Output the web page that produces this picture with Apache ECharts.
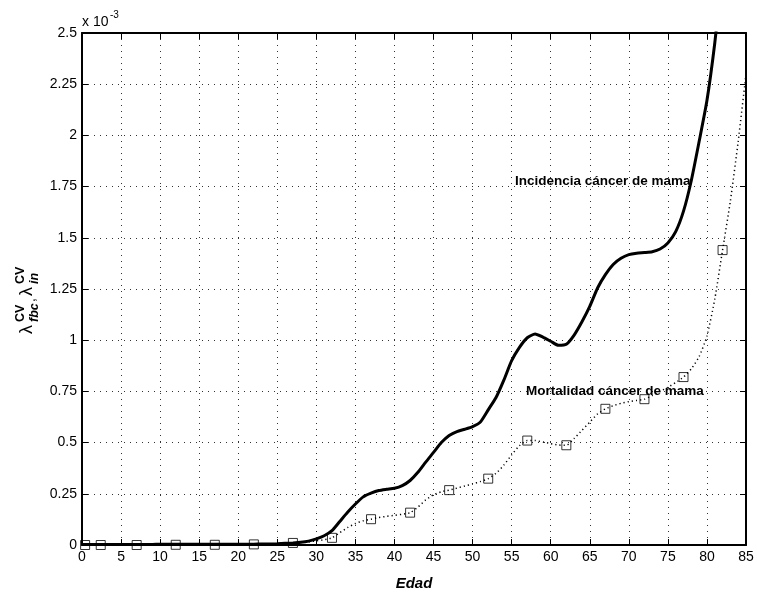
<!DOCTYPE html>
<html>
<head>
<meta charset="utf-8">
<script src="https://cdn.jsdelivr.net/npm/echarts@6/dist/echarts.min.js"></script>
<style>
html,body{margin:0;padding:0;background:#fff;}
#chart{width:757px;height:596px;}
</style>
</head>
<body>
<div id="chart"></div>
<script>
// Ages (years)
const incidenceAges = [0,1,2,3,4,5,6,7,8,9,10,11,12,13,14,15,16,17,18,19,20,21,22,23,24,25,26,27,28,29,30,31,32,33,34,35,36,37,38,39,40,41,42,43,44,45,46,47,48,49,50,51,52,53,54,55,56,57,58,59,60,61,62,63,64,65,66,67,68,69,70,71,72,73,74,75,76,77,78,79,80,81,82];
// Incidencia cáncer de mama (x 10^-3)
const incidenceValues = [0.003,0.003,0.003,0.003,0.003,0.003,0.003,0.003,0.003,0.003,0.004,0.004,0.004,0.004,0.004,0.004,0.004,0.004,0.004,0.004,0.004,0.004,0.004,0.005,0.005,0.006,0.008,0.010,0.013,0.019,0.030,0.045,0.070,0.115,0.160,0.200,0.235,0.253,0.266,0.272,0.277,0.290,0.315,0.355,0.405,0.452,0.500,0.535,0.554,0.565,0.578,0.601,0.660,0.720,0.805,0.900,0.965,1.012,1.030,1.015,0.995,0.975,0.980,1.025,1.090,1.165,1.255,1.320,1.370,1.400,1.418,1.425,1.428,1.432,1.445,1.475,1.530,1.630,1.780,1.970,2.170,2.450,2.800];

const mortalityAges = [0,1,2,3,4,5,6,7,8,9,10,11,12,13,14,15,16,17,18,19,20,21,22,23,24,25,26,27,28,29,30,31,32,33,34,35,36,37,38,39,40,41,42,43,44,45,46,47,48,49,50,51,52,53,54,55,56,57,58,59,60,61,62,63,64,65,66,67,68,69,70,71,72,73,74,75,76,77,78,79,80,81,82,83,84,85];
// Mortalidad cáncer de mama (x 10^-3)
const mortalityValues = [0,0,0,0,0,0,0,0,0,0,0,0,0.001,0.001,0.001,0.001,0.001,0.001,0.001,0.002,0.002,0.002,0.003,0.004,0.005,0.006,0.008,0.010,0.012,0.015,0.020,0.026,0.035,0.060,0.085,0.105,0.118,0.126,0.134,0.140,0.145,0.150,0.158,0.185,0.220,0.245,0.260,0.268,0.278,0.288,0.298,0.310,0.324,0.350,0.390,0.440,0.485,0.510,0.510,0.503,0.495,0.488,0.487,0.520,0.560,0.600,0.640,0.665,0.680,0.692,0.700,0.706,0.712,0.730,0.750,0.770,0.793,0.820,0.860,0.920,1.020,1.200,1.440,1.680,1.970,2.300];

// Square markers on the mortality curve
const markerAges = [0.4,2.4,7,12,17,22,27,32,37,42,47,52,57,62,67,72,77,82];
const markerValues = [0,0,0,0.001,0.001,0.003,0.010,0.035,0.126,0.158,0.268,0.324,0.510,0.487,0.665,0.712,0.820,1.440];

const xTicks = {min: 0, max: 85, interval: 5};
const yTicks = {min: 0, max: 2.5, interval: 0.25};

const incidenceLabel = 'Incidencia cáncer de mama';
const mortalityLabel = 'Mortalidad cáncer de mama';
const xName = 'Edad';

function pairs(xs, ys){ return xs.map((x,i)=>[x, ys[i]]); }

const FONT = 'Liberation Sans, Arial, Helvetica, sans-serif';
const chart = echarts.init(document.getElementById('chart'), null, {renderer:'canvas'});

const tickStyle = {show:true, inside:true, length:6, lineStyle:{color:'#000', width:1}};
const gridDots = {show:true, lineStyle:{color:'#333', width:1, type:[1,5]}};

chart.setOption({
  animation:false,
  backgroundColor:'#fff',
  grid:{left:82, right:11, top:33, bottom:38, containLabel:false},
  xAxis:[{
    type:'value', min:xTicks.min, max:xTicks.max, interval:xTicks.interval,
    name:xName, nameLocation:'middle', nameGap:31,
    nameTextStyle:{fontFamily:FONT, fontSize:15, fontWeight:'bold', fontStyle:'italic', color:'#000'},
    axisLine:{show:true, onZero:false, lineStyle:{color:'#000', width:2}},
    axisTick:tickStyle,
    axisLabel:{fontFamily:FONT, fontSize:14, color:'#000', margin:5},
    splitLine:gridDots
  },{
    type:'value', position:'top', min:xTicks.min, max:xTicks.max, interval:xTicks.interval,
    axisLine:{show:true, onZero:false, lineStyle:{color:'#000', width:2}},
    axisTick:tickStyle, axisLabel:{show:false}, splitLine:{show:false}
  }],
  yAxis:[{
    type:'value', min:yTicks.min, max:yTicks.max, interval:yTicks.interval,
    axisLine:{show:true, onZero:false, lineStyle:{color:'#000', width:2}},
    axisTick:tickStyle,
    axisLabel:{fontFamily:FONT, fontSize:14, color:'#000', margin:5},
    splitLine:gridDots
  },{
    type:'value', position:'right', min:yTicks.min, max:yTicks.max, interval:yTicks.interval,
    axisLine:{show:true, onZero:false, lineStyle:{color:'#000', width:2}},
    axisTick:tickStyle, axisLabel:{show:false}, splitLine:{show:false}
  }],
  series:[{
    type:'line', name:mortalityLabel, data:pairs(mortalityAges, mortalityValues),
    showSymbol:false, symbol:'none', smooth:0.2, clip:true,
    lineStyle:{color:'#000', width:1.5, type:[1.2,3]}, z:2
  },{
    type:'scatter', name:'markers', data:pairs(markerAges, markerValues),
    symbol:'rect', symbolSize:9, clip:false,
    itemStyle:{color:'rgba(0,0,0,0)', borderColor:'#000', borderWidth:1}, z:3
  },{
    type:'line', name:incidenceLabel, data:pairs(incidenceAges, incidenceValues),
    showSymbol:false, symbol:'none', smooth:0.2, clip:true,
    lineStyle:{color:'#000', width:3}, z:4
  }],
  graphic:[
    {type:'text', x:515, y:181, style:{text:incidenceLabel, fontFamily:FONT, fontSize:13.5, fontWeight:'bold', fill:'#000', verticalAlign:'middle', align:'left'}, z:10},
    {type:'text', x:526, y:391, style:{text:mortalityLabel, fontFamily:FONT, fontSize:13.5, fontWeight:'bold', fill:'#000', verticalAlign:'middle', align:'left'}, z:10},
    {type:'text', x:82, y:22, style:{text:'x 10', fontFamily:FONT, fontSize:14, fill:'#000', verticalAlign:'middle', align:'left'}},
    {type:'text', x:110, y:15, style:{text:'-3', fontFamily:FONT, fontSize:10, fill:'#000', verticalAlign:'middle', align:'left'}},
    {type:'group', x:27, y:334, rotation:Math.PI/2, children:[
      {type:'text', x:0, y:0, style:{text:'λ', fontFamily:FONT, fontSize:18, fill:'#000', verticalAlign:'middle', align:'left'}},
      {type:'text', x:12, y:-6, style:{text:'CV', fontFamily:FONT, fontSize:12.5, fontWeight:'bold', fill:'#000', verticalAlign:'middle', align:'left'}},
      {type:'text', x:12, y:8, style:{text:'fbc', fontFamily:FONT, fontSize:12.5, fontWeight:'bold', fontStyle:'italic', fill:'#000', verticalAlign:'middle', align:'left'}},
      {type:'text', x:32, y:4, style:{text:',', fontFamily:FONT, fontSize:14, fill:'#000', verticalAlign:'middle', align:'left'}},
      {type:'text', x:38, y:0, style:{text:'λ', fontFamily:FONT, fontSize:18, fill:'#000', verticalAlign:'middle', align:'left'}},
      {type:'text', x:50, y:-6, style:{text:'CV', fontFamily:FONT, fontSize:12.5, fontWeight:'bold', fill:'#000', verticalAlign:'middle', align:'left'}},
      {type:'text', x:50, y:8, style:{text:'in', fontFamily:FONT, fontSize:12.5, fontWeight:'bold', fontStyle:'italic', fill:'#000', verticalAlign:'middle', align:'left'}}
    ]}
  ]
});
</script>
</body>
</html>
